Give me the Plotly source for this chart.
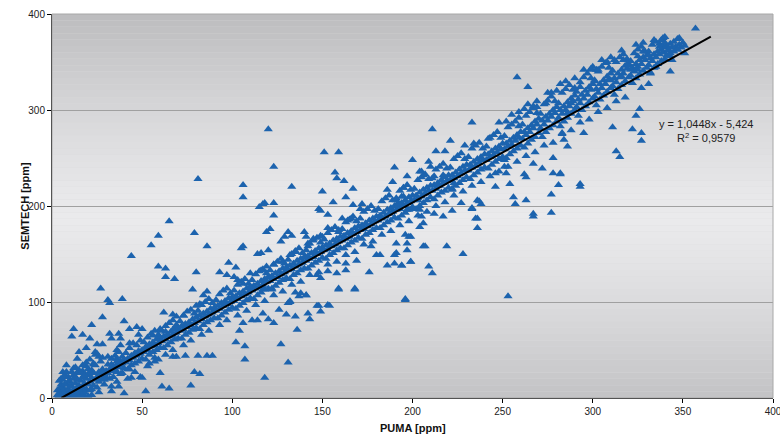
import plotly.graph_objects as go

# PUMA vs SEMTECH scatter with linear trend line

# dense band along the trend (puma, semtech) in ppm
core_pts = [
    (4,2),(5,0),(5,6),(6,3),(6,11),(7,1),(7,8),(8,4),(8,14),(9,2),(9,9),(10,6),(10,17),(4,9),(6,19),(8,0),(9,22),(10,1),(5,14),(7,24),
    (11,3),(11,12),(12,8),(12,20),(13,5),(13,15),(14,10),(14,26),(15,4),(15,13),(16,18),(16,8),(17,11),(17,28),(18,15),(18,2),(19,20),(19,9),(20,14),(20,24),(12,31),(14,1),(17,22),(19,33),(11,27),
    (21,17),(21,8),(22,21),(22,29),(23,13),(23,26),(24,19),(24,34),(25,22),(25,11),(26,27),(26,17),(27,24),(27,38),(28,20),(28,30),(29,25),(29,14),(30,28),(30,21),(22,3),(26,6),(28,42),(24,45),
    (31,26),(31,35),(32,30),(32,20),(33,28),(33,41),(34,33),(34,22),(35,30),(35,44),(36,35),(36,27),(37,32),(37,48),(38,38),(38,25),(39,36),(39,43),(40,31),(40,40),(33,12),(36,17),(38,55),
    (41,37),(41,47),(42,41),(42,30),(43,39),(43,52),(44,44),(44,34),(45,42),(45,57),(46,47),(46,36),(47,44),(47,55),(48,49),(48,38),(49,46),(49,60),(50,50),(50,41),(42,20),(46,27),(48,66),
    (51,48),(51,58),(52,53),(52,40),(53,50),(53,63),(54,56),(54,45),(55,54),(55,67),(56,58),(56,48),(57,55),(57,70),(58,61),(58,50),(59,57),(59,66),(60,62),(60,52),(53,33),(57,38),
    (61,59),(61,70),(62,64),(62,52),(63,61),(63,75),(64,66),(64,55),(65,64),(65,78),(66,69),(66,58),(67,66),(67,81),(68,72),(68,61),(69,68),(69,76),(70,73),(70,62),(63,45),(67,50),
    (71,70),(71,80),(72,75),(72,62),(73,71),(73,86),(74,77),(74,66),(75,74),(75,90),(76,79),(76,68),(77,76),(77,92),(78,82),(78,71),(79,78),(79,88),(80,84),(80,73),(73,55),(77,60),(80,96),
    (81,80),(81,91),(82,86),(82,72),(83,82),(83,97),(84,88),(84,76),(85,85),(85,100),(86,90),(86,79),(87,87),(87,103),(88,93),(88,81),(89,89),(89,99),(90,94),(90,83),(83,66),(87,70),(84,107),
    (91,91),(91,102),(92,96),(92,83),(93,93),(93,108),(94,99),(94,86),(95,96),(95,112),(96,101),(96,89),(97,98),(97,114),(98,104),(98,92),(99,100),(99,109),(100,105),(100,94),(93,76),(97,81),
    (101,101),(101,112),(102,106),(102,93),(103,103),(103,118),(104,109),(104,96),(105,106),(105,121),(106,111),(106,99),(107,108),(107,124),(108,114),(108,102),(109,110),(109,119),(110,115),(110,104),(103,86),(108,91),
    (111,112),(111,123),(112,117),(112,103),(113,114),(113,129),(114,119),(114,107),(115,116),(115,132),(116,122),(116,110),(117,118),(117,134),(118,124),(118,113),(119,121),(119,130),(120,126),(120,114),(113,97),(118,101),
    (121,122),(121,133),(122,127),(122,114),(123,124),(123,139),(124,130),(124,117),(125,126),(125,142),(126,132),(126,120),(127,129),(127,145),(128,135),(128,123),(129,131),(129,140),(130,136),(130,125),(123,107),(128,111),
    (131,133),(131,144),(132,138),(132,124),(133,134),(133,150),(134,140),(134,128),(135,137),(135,153),(136,143),(136,130),(137,139),(137,156),(138,145),(138,133),(139,141),(139,151),(140,147),(140,135),(133,118),(138,121),
    (141,143),(141,154),(142,148),(142,135),(143,145),(143,161),(144,151),(144,138),(145,147),(145,164),(146,153),(146,141),(147,150),(147,167),(148,156),(148,143),(149,152),(149,162),(150,157),(150,146),(143,128),(148,131),
    (151,154),(151,165),(152,159),(152,145),(153,155),(153,172),(154,161),(154,149),(155,158),(155,175),(156,164),(156,151),(157,160),(157,178),(158,166),(158,154),(159,163),(159,173),(160,168),(160,156),(153,139),(158,142),
    (161,164),(161,176),(162,169),(162,156),(163,166),(163,183),(164,172),(164,159),(165,168),(165,186),(166,174),(166,162),(167,171),(167,189),(168,177),(168,164),(169,173),(169,184),(170,179),(170,167),(163,149),(168,152),
    (171,175),(171,187),(172,180),(172,166),(173,176),(173,194),(174,182),(174,170),(175,179),(175,197),(176,185),(176,172),(177,181),(177,200),(178,187),(178,175),(179,184),(179,195),(180,189),(180,177),(173,160),(178,163),
    (181,185),(181,197),(182,190),(182,177),(183,187),(183,205),(184,193),(184,180),(185,189),(185,208),(186,196),(186,183),(187,192),(187,211),(188,198),(188,185),(189,194),(189,206),(190,200),(190,188),(183,170),(188,174),
    (191,196),(191,208),(192,201),(192,187),(193,197),(193,216),(194,203),(194,190),(195,200),(195,219),(196,206),(196,193),(197,203),(197,222),(198,209),(198,196),(199,205),(199,217),(200,211),(200,198),(193,180),(198,184),
    (201,206),(201,218),(202,211),(202,197),(203,208),(203,227),(204,214),(204,200),(205,210),(205,230),(206,217),(206,203),(207,213),(207,233),(208,219),(208,206),(209,216),(209,228),(210,221),(210,209),(203,190),(208,194),
    (211,216),(211,229),(212,222),(212,207),(213,218),(213,238),(214,224),(214,211),(215,221),(215,241),(216,227),(216,214),(217,224),(217,244),(218,230),(218,216),(219,226),(219,239),(220,232),(220,219),(213,200),(218,204),
    (221,227),(221,240),(222,232),(222,218),(223,229),(223,249),(224,235),(224,221),(225,231),(225,252),(226,238),(226,224),(227,234),(227,255),(228,241),(228,227),(229,237),(229,249),(230,243),(230,230),(223,211),(228,215),
    (231,237),(231,251),(232,243),(232,228),(233,240),(233,260),(234,246),(234,232),(235,242),(235,263),(236,249),(236,235),(237,245),(237,266),(238,251),(238,238),(239,248),(239,260),(240,254),(240,240),(233,221),(238,225),
    (241,248),(241,262),(242,254),(242,239),(243,251),(243,271),(244,257),(244,243),(245,253),(245,274),(246,260),(246,246),(247,256),(247,277),(248,262),(248,249),(249,259),(249,271),(250,265),(250,251),(243,231),(248,236),
    (251,259),(251,273),(252,265),(252,250),(253,262),(253,282),(254,268),(254,254),(255,264),(255,285),(256,271),(256,257),(257,268),(257,288),(258,274),(258,260),(259,271),(259,283),(260,277),(260,263),(253,241),(258,246),(255,295),(259,292),
    (261,270),(261,285),(262,277),(262,261),(263,274),(263,294),(264,281),(264,265),(265,277),(265,298),(266,284),(266,269),(267,281),(267,302),(268,288),(268,272),(269,285),(269,297),(270,291),(270,276),(263,252),(268,256),(264,306),(269,309),
    (271,281),(271,296),(272,289),(272,272),(273,285),(273,306),(274,293),(274,277),(275,289),(275,310),(276,296),(276,281),(277,293),(277,314),(278,300),(278,284),(279,297),(279,309),(280,303),(280,288),(273,263),(278,266),(275,318),(280,320),
    (281,292),(281,307),(282,300),(282,283),(283,296),(283,318),(284,304),(284,288),(285,300),(285,322),(286,308),(286,292),(287,304),(287,326),(288,312),(288,296),(289,309),(289,321),(290,315),(290,300),(283,275),(288,279),(285,330),(290,333),
    (291,303),(291,319),(292,311),(292,294),(293,307),(293,329),(294,316),(294,300),(295,312),(295,334),(296,320),(296,304),(297,316),(297,338),(298,324),(298,308),(299,321),(299,333),(300,327),(300,312),(293,287),(298,290),(295,342),(300,345),
    (301,314),(301,330),(302,322),(302,305),(303,318),(303,340),(304,327),(304,311),(305,323),(305,345),(306,331),(306,315),(307,327),(307,349),(308,335),(308,319),(309,332),(309,344),(310,338),(310,323),(303,298),(308,302),(305,352),(310,355),
    (311,325),(311,341),(312,333),(312,316),(313,329),(313,350),(314,338),(314,322),(315,334),(315,355),(316,342),(316,326),(317,338),(317,358),(318,346),(318,330),(319,343),(319,353),(320,348),(320,334),(313,309),(318,313),(316,362),
    (321,336),(321,351),(322,344),(322,328),(323,340),(323,359),(324,348),(324,333),(325,345),(325,363),(326,352),(326,337),(327,348),(327,366),(328,355),(328,341),(329,352),(329,361),(330,357),(330,344),(324,368),(328,370),
    (331,347),(331,361),(332,354),(332,339),(333,351),(333,368),(334,358),(334,344),(335,355),(335,371),(336,361),(336,348),(337,358),(337,369),(338,363),(338,351),(339,360),(339,366),(340,365),(340,353),(334,373),
    (341,357),(341,367),(342,362),(343,359),(343,369),(344,365),(345,361),(345,371),(346,366),(347,363),(348,368),(349,365),(350,370),(351,367),(347,374),(344,352),(339,375),
    (3,0),(4,1),(5,3),(6,0),(7,5),(8,1),(9,3),(10,0),(11,6),(12,2),(13,9),(14,4),(15,0),(16,3),(18,6),(20,2),(22,9),(4,5),(5,11),(6,7),
    (3,3),(7,14),(9,17),(10,12),(12,24),(14,19),(16,26),(13,22),(6,27),(8,27),(15,29),(18,24),(20,30),(21,27),(3,8),(5,20),
]

# scattered points away from the band, low range
low_pts = [
    (44,148),(59,137),(63,135),(63,126),(68,124),(80,131),(27,114),(31,102),(32,99),(39,103),(28,84),(40,80),(12,72),(11,64),
    (17,66),(22,76),(21,62),(19,52),(15,48),(25,56),(28,56),(32,67),(33,62),(37,67),(38,62),(43,72),(47,74),(50,72),(43,57),
    (36,50),(31,43),(36,41),(24,48),(26,43),(14,41),(17,34),(13,32),(19,37),(23,36),(28,26),(29,19),(33,35),(38,34),(39,26),
    (43,30),(44,21),(49,22),(52,7),(40,5),(37,12),(33,7),(7,22),(4,18),(8,34),(21,40),(23,35),(36,38),(25,46),
    (62,89),(67,87),(69,85),(73,86),(56,65),(59,64),(60,72),(63,69),(67,71),(78,113),(86,111),(82,98),(93,131),(98,141),
    (97,128),(102,136),(50,21),(61,12),(65,10),(77,13),(79,27),(82,25),(74,44),(81,44),(86,44),(89,44),(54,36),(57,42),
    (59,40),(60,26),(67,43),(69,43),(81,228),(65,184),(79,172),(59,169),(55,159),(86,158),
]

# scattered points away from the band, middle range
mid_pts = [
    (120,280),(151,256),(159,256),(123,241),(106,222),(106,209),(133,220),(157,235),(158,229),(162,226),(150,215),(167,218),
    (200,248),(190,240),(209,246),(189,225),(205,236),(206,232),(186,217),(195,219),(194,210),(191,206),(115,199),(117,202),
    (118,203),(123,203),(123,190),(148,197),(149,195),(153,191),(156,204),(163,209),(167,201),(172,202),(171,197),(119,173),
    (121,176),(131,173),(133,169),(129,168),(127,163),(140,173),(106,158),(105,156),(114,150),(116,151),(120,154),(110,130),
    (116,133),(119,137),(123,139),(128,142),(132,149),(135,152),(142,158),(142,161),(141,168),(145,166),(149,169),(150,168),
    (153,177),(159,175),(161,187),(164,185),(166,187),(192,203),(195,210),(197,196),(200,199),(203,206),(204,196),(205,189),
    (206,182),(204,178),(176,131),(168,114),(159,114),(196,102),(153,97),(147,96),(132,101),(131,99),(186,138),(190,140),
    (194,138),(199,142),(191,151),(191,161),(197,154),(190,149),(206,158),(199,168),(196,170),(163,133),(163,140),(169,143),
    (180,149),(182,149),(177,158),(158,130),(153,132),(149,125),(147,128),(141,107),(138,109),(135,110),(117,113),(122,113),
    (110,116),(106,119),(103,123),(101,126),(118,21),(131,37),(107,40),(127,56),(102,58),(107,54),(104,70),(136,71),
    (143,82),(142,88),(149,90),(148,96),(154,96),(130,87),(135,85),(123,78),(120,82),(126,92),(117,88),(114,81),(111,81),
    (106,78),(132,100),(137,106),(141,107),(159,113),(168,113),
]

# scattered points away from the band, high range
high_pts = [
    (258,334),(264,324),(233,287),(211,280),(248,287),(252,288),(221,268),(213,257),(218,257),(229,263),(234,265),
    (242,270),(295,276),(277,318),(282,327),(274,307),(267,304),(269,303),(262,301),(259,298),(299,343),(302,342),
    (278,250),(272,239),(278,234),(282,233),(281,222),(293,223),(293,220),(277,212),(262,233),(263,230),(267,244),(254,223),
    (246,220),(256,209),(257,202),(263,206),(267,192),(267,189),(277,193),(233,198),(237,205),(238,202),(222,195),(217,189),
    (212,192),(235,187),(252,234),(251,241),(246,234),(251,248),(227,203),(222,217),(223,224),(217,232),(212,231),(210,241),
    (204,236),(197,231),(357,385),(348,375),(340,376),(338,373),(337,366),(343,340),(331,327),(326,301),(324,294),(327,323),
    (311,282),(322,280),(327,276),(327,268),(313,257),(315,251),(282,234),(286,262),(284,269),(283,276),(325,356),(328,361),
    (331,357),(335,345),(332,338),(343,356),(347,363),(351,359),(340,370),(342,363),(308,350),(312,352),(317,352),(319,347),
    (321,342),(325,342),(316,335),(310,331),(303,342),(299,342),(301,331),(293,324),(290,323),(288,307),(286,297),
    (253,106),(196,103),(207,158),(219,158),(228,150),(199,142),(194,138),(209,137),(211,130),(197,161),(198,168),
    (236,187),(236,177),(233,197),(236,206),
]

slope = 1.0448
intercept = -5.424
r2 = 0.9579
trend_x = [5.2, 365.5]

all_pts = core_pts + low_pts + mid_pts + high_pts
puma = [p[0] for p in all_pts]
semtech = [p[1] for p in all_pts]

fig = go.Figure()

fig.add_trace(go.Scatter(
    x=puma, y=semtech, mode="markers",
    marker=dict(symbol="triangle-up", size=8, color="#1C63AE", line_width=0),
    showlegend=False, hoverinfo="skip",
))

fig.add_trace(go.Scatter(
    x=trend_x, y=[slope * v + intercept for v in trend_x], mode="lines",
    line=dict(color="black", width=2), showlegend=False, hoverinfo="skip",
))

# grey gradient background: dark at top and bottom, light in the middle
n = 60
for i in range(n):
    t = (i + 0.5) / n
    d = abs(t - 0.47) / 0.53
    g = int(round(234 - 46 * d ** 1.3))
    fig.add_shape(
        type="rect", xref="x domain", yref="y domain",
        x0=0, x1=1, y0=i / n, y1=(i + 1) / n,
        fillcolor=f"rgb({g},{g},{g + 2})", line_width=0, layer="below",
    )

fig.add_shape(
    type="rect", xref="x domain", yref="y domain", x0=0, x1=1, y0=0, y1=1,
    line=dict(color="#A8A8A8", width=1), layer="above",
)

fig.add_annotation(
    x=363, y=278, xref="x", yref="y",
    text="y = 1,0448x - 5,424<br>R<sup>2</sup> = 0,9579",
    showarrow=False, align="center",
    font=dict(family="Liberation Sans, Arial", size=11, color="#222222"),
)

# axis titles placed by hand so the margins stay fixed
fig.add_annotation(
    x=0.5, y=-0.1, xref="paper", yref="paper", text="<b>PUMA [ppm]</b>",
    showarrow=False, font=dict(size=11, color="#111111"),
)
fig.add_annotation(
    x=-0.049, y=0.5, xref="paper", yref="paper", text="<b>SEMTECH [ppm]</b>",
    showarrow=False, textangle=-90, font=dict(size=11, color="#111111"),
)

fig.update_layout(
    width=780, height=440,
    margin=dict(l=52, r=7, t=14, b=42, autoexpand=False),
    paper_bgcolor="white", plot_bgcolor="#DADADC",
    font=dict(family="Liberation Sans, Arial", size=10, color="#222222"),
)

fig.update_xaxes(
    range=[0, 400], dtick=50, tickformat="d", automargin=False,
    ticklabeloverflow="allow",
    showgrid=False, zeroline=False,
    showline=True, linecolor="black", linewidth=1,
    ticks="outside", ticklen=4, tickcolor="black",
)
fig.update_yaxes(
    range=[0, 400], dtick=100, automargin=False,
    showgrid=True, gridcolor="#A0A0A0", gridwidth=1, zeroline=False,
    showline=True, linecolor="black", linewidth=1,
    ticks="outside", ticklen=4, tickcolor="black",
)

# drop the browser's default page margin so the figure sits at the top-left corner
fig.write_html(
    "out.html",
    config={"displayModeBar": False},
    post_script="document.body.style.margin='0';",
)
